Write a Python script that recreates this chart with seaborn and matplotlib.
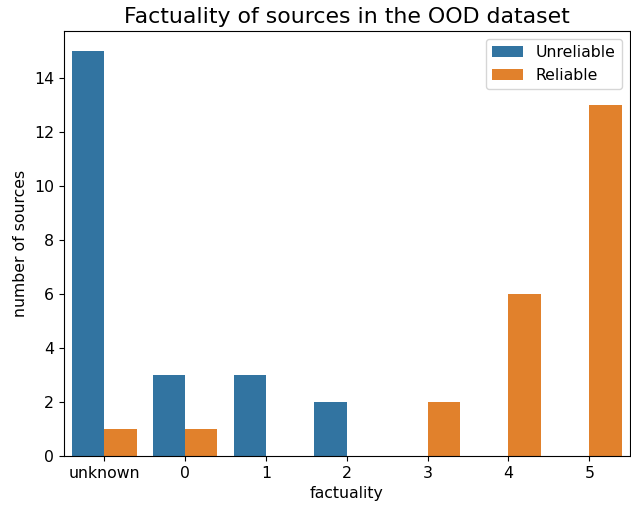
import matplotlib
matplotlib.use("Agg")
import matplotlib.pyplot as plt
import seaborn as sns
import pandas as pd

categories = ["unknown", "0", "1", "2", "3", "4", "5"]
unreliable = [15, 3, 3, 2, 0, 0, 0]
reliable = [1, 1, 0, 0, 2, 6, 13]

df = pd.DataFrame({
    "factuality": categories * 2,
    "count": unreliable + reliable,
    "label": ["Unreliable"] * len(categories) + ["Reliable"] * len(categories),
})

plt.rcParams.update({"font.size": 11.3})

fig = plt.figure(figsize=(6.31, 5.08), dpi=100)
ax = fig.add_axes([0.101, 0.102, 0.897, 0.837])
sns.barplot(data=df, x="factuality", y="count", hue="label", order=categories,
            hue_order=["Unreliable", "Reliable"], ax=ax)
ax.set_title("Factuality of sources in the OOD dataset", fontsize=15.8)
ax.set_xlabel("factuality", fontsize=11.3)
ax.set_ylabel("number of sources", fontsize=11.3)
ax.tick_params(labelsize=11.3)
ax.legend(loc="upper right", title=None, fontsize=11.3)
fig.savefig("out.png", dpi=100)
